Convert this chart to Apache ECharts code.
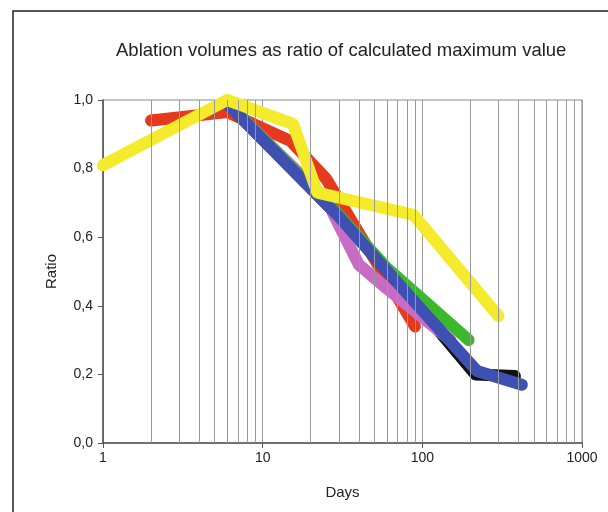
<!DOCTYPE html>
<html><head><meta charset="utf-8">
<script src="https://cdn.jsdelivr.net/npm/echarts@6/dist/echarts.min.js"></script>
<style>html,body{margin:0;padding:0;background:#fff}#c{width:608px;height:512px}</style>
</head><body><div id="c"></div>
<script>
const titleText = 'Ablation volumes as ratio of calculated maximum value';
const xName = 'Days';
const yName = 'Ratio';
const minorGridDays = [2,3,4,5,6,7,8,9,20,30,40,50,60,70,80,90,200,300,400,500,600,700,800,900];
const redData = [[2,0.94],[6,0.965],[15,0.88],[25,0.77],[90,0.34]];
const blackData = [[6,0.99],[30,0.66],[90,0.41],[215,0.20],[380,0.195]];
const magentaData = [[6,0.99],[25,0.71],[40,0.52],[60,0.45],[150,0.30]];
const greenData = [[6,0.99],[30,0.665],[60,0.51],[195,0.30]];
const blueData = [[6,0.99],[30,0.66],[90,0.41],[220,0.21],[420,0.17]];
const yellowData = [[1,0.81],[6,1.0],[15.5,0.93],[22,0.73],[88,0.665],[300,0.37]];

const font = '"Liberation Sans", Arial, sans-serif';
function ln(name, data, color) {
  return {name, type:'line', data, z:3, symbol:'none', silent:true,
    lineStyle:{color, width:12, cap:'round', join:'round'}};
}
const chart = echarts.init(document.getElementById('c'), null, {renderer:'canvas'});
chart.setOption({
  animation:false,
  backgroundColor:'#fff',
  title:{text:titleText, left:111, top:36,
    textStyle:{fontFamily:font, fontSize:18.5, fontWeight:'normal', color:'#222'}},
  graphic:[{type:'rect', shape:{x:13, y:11, width:700, height:600},
    style:{fill:'none', stroke:'#222', lineWidth:1.5}, silent:true, z:0}],
  grid:{left:103, right:26, top:100, bottom:69, show:true, borderColor:'#888', borderWidth:1, backgroundColor:'transparent'},
  xAxis:{type:'log', logBase:10, min:1, max:1000,
    name:xName, nameLocation:'middle', nameGap:42,
    nameTextStyle:{fontFamily:font, fontSize:15, color:'#222'},
    axisLine:{lineStyle:{color:'#555', width:1.5}},
    axisTick:{show:true, length:5, inside:false, lineStyle:{color:'#555'}},
    axisLabel:{fontFamily:font, fontSize:14, color:'#222', margin:8,
      formatter:v=>String(Math.round(v))},
    splitLine:{show:true, lineStyle:{color:'#999', width:1}},
    minorTick:{show:false}, minorSplitLine:{show:false}},
  yAxis:{type:'value', min:0, max:1, interval:0.2,
    name:yName, nameLocation:'middle', nameGap:44,
    nameTextStyle:{fontFamily:font, fontSize:15, color:'#222'},
    axisLine:{show:true, lineStyle:{color:'#555', width:1.5}},
    axisTick:{show:true, length:5, lineStyle:{color:'#555'}},
    axisLabel:{fontFamily:font, fontSize:14, color:'#222', margin:10,
      formatter:v=>v.toFixed(1).replace('.',',')},
    splitLine:{show:false}},
  series:[
    {type:'line', data:[], z:1, silent:true,
      markLine:{silent:true, symbol:['none','none'], label:{show:false},
        lineStyle:{color:'#999', width:1, type:'solid'}, animation:false,
        data:minorGridDays.map(d=>({xAxis:d}))}},
    ln('red', redData, '#e63a1f'),
    ln('black', blackData, '#111111'),
    ln('magenta', magentaData, '#c66cc4'),
    ln('green', greenData, '#3cb82c'),
    ln('blue', blueData, '#3e50b2'),
    ln('yellow', yellowData, '#f4eb2c')
  ]
});
</script></body></html>
